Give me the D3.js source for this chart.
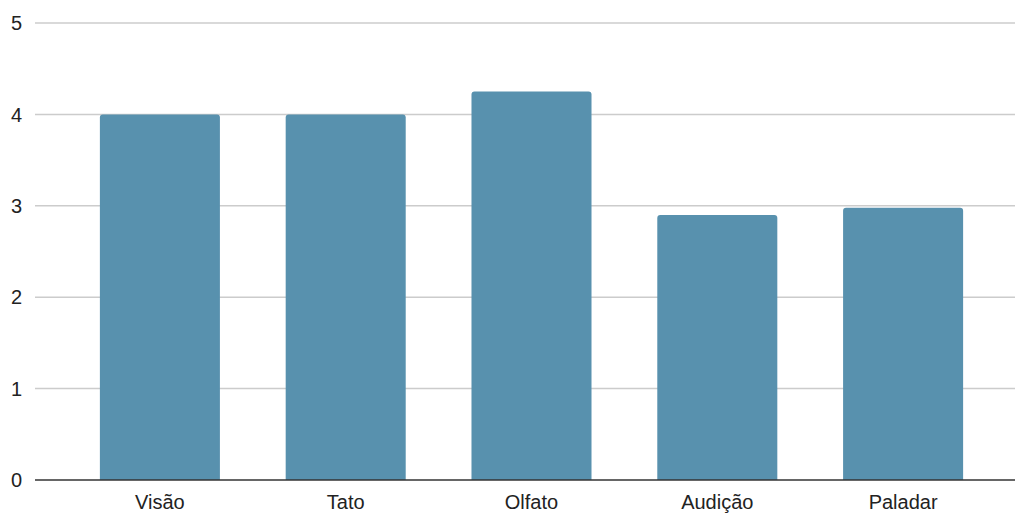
<!DOCTYPE html>
<html>
<head>
<meta charset="utf-8">
<script src="https://cdn.jsdelivr.net/npm/d3@7"></script>
<style>
  html, body { margin: 0; padding: 0; background: #fff; }
  svg { display: block; }
  text { font-family: "Liberation Sans", Arial, sans-serif; fill: #222; }
</style>
</head>
<body>
<svg id="chart" width="1015" height="513"></svg>
<script>
// Average score per sense
const categories = ["Visão", "Tato", "Olfato", "Audição", "Paladar"];
const values = [4.0, 4.0, 4.25, 2.9, 2.98];
const yTicks = [0, 1, 2, 3, 4, 5];

const svg = d3.select("#chart");
const plotLeft = 35, plotRight = 1015;

const x = d3.scaleBand()
  .domain(categories)
  .range([67, 996])
  .paddingInner(0.354)
  .paddingOuter(0.177);

const y = d3.scaleLinear().domain([0, 5]).range([480, 23]);

// Horizontal gridlines
svg.append("g")
  .selectAll("line")
  .data(yTicks.filter(d => d !== 0))
  .join("line")
  .attr("x1", plotLeft).attr("x2", plotRight)
  .attr("y1", d => y(d)).attr("y2", d => y(d))
  .attr("stroke", "#cccccc")
  .attr("stroke-width", 1.5);

// Y tick labels
svg.append("g")
  .selectAll("text")
  .data(yTicks)
  .join("text")
  .attr("x", 22)
  .attr("y", d => y(d))
  .attr("dy", "0.36em")
  .attr("text-anchor", "end")
  .style("font-size", "20px")
  .text(d => d);

// Bars with slightly rounded top corners
const r = 3;
function barPath(d, i) {
  const x0 = x(categories[i]), w = x.bandwidth();
  const yt = y(d), yb = y(0);
  return `M${x0},${yb}V${yt + r}Q${x0},${yt} ${x0 + r},${yt}` +
         `H${x0 + w - r}Q${x0 + w},${yt} ${x0 + w},${yt + r}V${yb}Z`;
}
svg.append("g")
  .selectAll("path")
  .data(values)
  .join("path")
  .attr("d", barPath)
  .attr("fill", "#5891ae");

// Baseline
svg.append("line")
  .attr("x1", plotLeft).attr("x2", plotRight)
  .attr("y1", y(0)).attr("y2", y(0))
  .attr("stroke", "#333333")
  .attr("stroke-width", 1.5);

// Category labels
svg.append("g")
  .selectAll("text")
  .data(categories)
  .join("text")
  .attr("x", d => x(d) + x.bandwidth() / 2)
  .attr("y", 509)
  .attr("text-anchor", "middle")
  .style("font-size", "20px")
  .text(d => d);
</script>
</body>
</html>
